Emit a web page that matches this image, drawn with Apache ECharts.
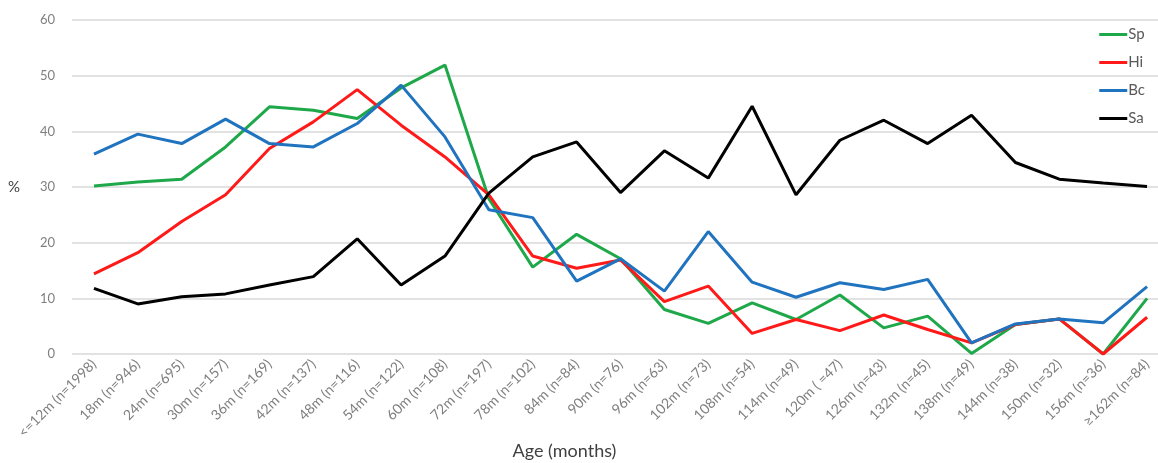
<!DOCTYPE html>
<html>
<head>
<meta charset="utf-8">
<script src="https://cdn.jsdelivr.net/npm/echarts@6/dist/echarts.min.js"></script>
<style>
html,body{margin:0;padding:0;background:#fff;}
#chart{width:1158px;height:463px;}
</style>
</head>
<body>
<div id="chart"></div>
<script>
const categories = ['<=12m (n=1998)','18m (n=946)','24m (n=695)','30m (n=157)','36m (n=169)','42m (n=137)','48m (n=116)','54m (n=122)','60m (n=108)','72m (n=197)','78m (n=102)','84m (n=84)','90m (n=76)','96m (n=63)','102m (n=73)','108m (n=54)','114m (n=49)','120m ( =47)','126m (n=43)','132m (n=45)','138m (n=49)','144m (n=38)','150m (n=32)','156m (n=36)','≥162m (n=84)'];
const sp = [30.2,30.9,31.4,37.2,44.4,43.8,42.3,47.8,51.9,27.9,15.6,21.5,17.1,8.0,5.5,9.2,6.2,10.6,4.7,6.8,0.1,5.3,6.3,0,10.0];
const hi = [14.4,18.2,23.8,28.6,36.9,41.7,47.5,41.1,35.4,28.6,17.6,15.4,16.9,9.4,12.2,3.7,6.2,4.2,7.0,4.4,2.0,5.3,6.3,0,6.6];
const bc = [35.9,39.5,37.8,42.2,37.8,37.2,41.4,48.3,39.0,25.9,24.5,13.1,17.1,11.3,22.0,12.9,10.2,12.8,11.6,13.4,2.0,5.4,6.3,5.6,12.1];
const sa = [11.8,9.0,10.3,10.8,12.4,13.9,20.7,12.4,17.6,28.9,35.4,38.1,29.0,36.5,31.6,44.5,28.6,38.4,42.0,37.8,42.9,34.4,31.4,30.7,30.1];
const yTicks = [0,10,20,30,40,50,60];

const chart = echarts.init(document.getElementById('chart'));
const font = 'Lato, "Open Sans", sans-serif';
function line(name, data, color){
  return {name, type:'line', data, symbol:'none', lineStyle:{color, width:3}, itemStyle:{color}, emphasis:{disabled:true}};
}
chart.setOption({
  animation:false,
  textStyle:{fontFamily:font},
  grid:{left:72, width:1097, top:20, bottom:109, containLabel:false, outerBoundsMode:'none'},
  legend:{
    orient:'vertical', right:8, top:22, itemGap:13,
    itemWidth:28, itemHeight:3, icon:'rect',
    textStyle:{color:'#595959', fontSize:15, fontFamily:font, padding:[0,0,0,-4]},
    data:['Sp','Hi','Bc','Sa']
  },
  xAxis:{
    type:'category', data:categories, boundaryGap:true,
    axisLine:{show:false}, axisTick:{show:false},
    axisLabel:{rotate:45, interval:0, color:'#7f7f7f', fontSize:14, fontFamily:font, margin:8},
    name:'Age (months)', nameLocation:'middle', nameGap:88, nameMoveOverlap:false,
    nameTextStyle:{color:'#404040', fontSize:18, fontFamily:font, padding:[0,112,0,0]}
  },
  yAxis:{
    type:'value', min:yTicks[0], max:yTicks[yTicks.length-1], interval:10,
    axisLine:{show:false}, axisTick:{show:false},
    splitLine:{lineStyle:{color:'#d9d9d9', width:1.5}},
    axisLabel:{color:'#7f7f7f', fontSize:13, fontFamily:font, margin:17},
    name:'%', nameLocation:'middle', nameRotate:0, nameGap:52,
    nameTextStyle:{color:'#404040', fontSize:15, fontFamily:font}
  },
  series:[
    line('Sp', sp, '#1ea84a'),
    line('Hi', hi, '#ff1a1a'),
    line('Bc', bc, '#1f73bf'),
    line('Sa', sa, '#000000')
  ]
});
</script>
</body>
</html>
